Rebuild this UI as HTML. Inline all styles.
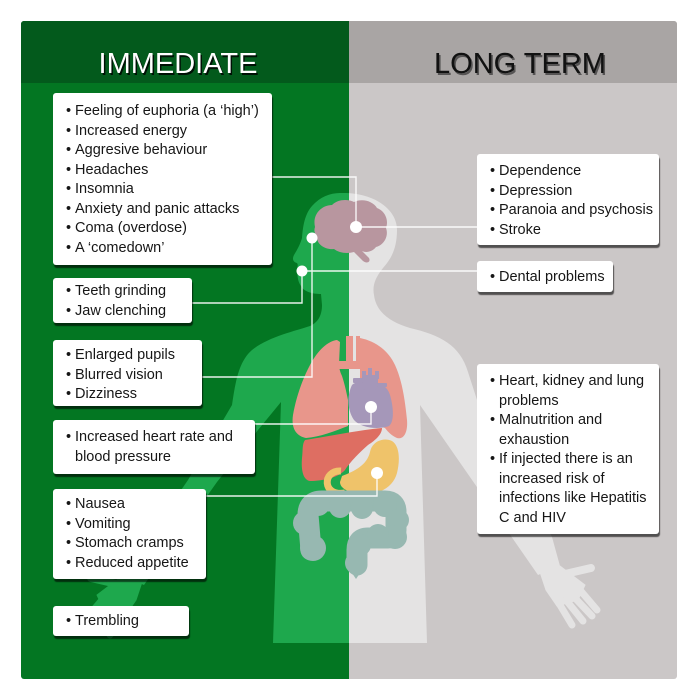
<!DOCTYPE html>
<html>
<head>
<meta charset="utf-8">
<style>
html,body{margin:0;padding:0;background:#fff;}
body{width:700px;height:700px;position:relative;overflow:hidden;}
svg{position:absolute;left:0;top:0;}
.box{position:absolute;background:#fff;border-radius:3px;box-shadow:1px 3px 1px rgba(0,0,0,.6);font-family:"Liberation Sans",sans-serif;font-size:14.5px;line-height:19.5px;color:#161616;white-space:nowrap;box-sizing:border-box;}
.box div{position:relative;padding-left:22px;height:19.5px;}
.box div b{position:absolute;left:13px;top:0;font-weight:normal;}
</style>
</head>
<body>
<svg width="700" height="700" viewBox="0 0 700 700" xmlns="http://www.w3.org/2000/svg">
  <defs>
    <clipPath id="panel"><rect x="21" y="21" width="656" height="658" rx="3"/></clipPath>
    <clipPath id="leftc"><rect x="0" y="0" width="349" height="700"/></clipPath>
    <clipPath id="rightc"><rect x="349" y="0" width="351" height="700"/></clipPath>
    <g id="hand">
      <polygon points="540,572 560,566 585,585 578,600 557,606 546,590"/>
      <g stroke-linecap="round" stroke-width="7" fill="none">
        <line x1="557" y1="600" x2="572" y2="625"/>
        <line x1="566" y1="600" x2="583" y2="621"/>
        <line x1="574" y1="597" x2="592" y2="616"/>
        <line x1="580" y1="590" x2="597" y2="610"/>
        <line x1="565" y1="574" x2="591" y2="568" stroke-width="8"/>
      </g>
    </g>
    <path id="sil" d="M 340,193 C 372,192 397,208 397,230 C 397,250 390,260 383,268 C 376,277 372,285 374,295 C 376,312 390,322 410,328 C 440,335 460,345 468,372 L 478,403 L 552,537 L 560,566 L 538,575 L 420,405 L 427,643 L 273,643 L 281,402 L 258,430 L 217,482 L 144,585 L 122,576 L 188,480 L 232,405 C 235,385 238,362 252,350 C 268,337 295,331 310,326 C 319,322 322,314 322,305 L 321,294 C 313,294 304,292 301,286 C 297,280 298,276 297,272 C 296,268 299,266 297,263 C 293,262 292,259 294,255 C 297,250 300,245 302,238 C 303,225 305,214 312,206 C 320,197 330,193 340,193 Z"/>
  </defs>

  <g clip-path="url(#panel)">
    <rect x="21" y="21" width="328" height="658" fill="#037622"/>
    <rect x="349" y="21" width="328" height="658" fill="#cbc7c7"/>
    <rect x="21" y="21" width="328" height="62" fill="#035a1c"/>
    <rect x="349" y="21" width="328" height="62" fill="#a9a5a4"/>

    <!-- silhouette left -->
    <g clip-path="url(#leftc)" fill="#1ea84d" stroke="#1ea84d">
      <use href="#sil" stroke="none"/>
      <use href="#hand" transform="translate(682,10) scale(-1,1)"/>
      <use href="#hand"/>
    </g>
    <g clip-path="url(#rightc)" fill="#e4e3e3" stroke="#e4e3e3">
      <use href="#sil" stroke="none"/>
      <use href="#hand"/>
    </g>

    <!-- lungs -->
    <g fill="#e8968b">
      <path d="M 337,340 C 328,341 318,350 310,365 C 302,380 296,398 293,415 C 291,428 296,436 306,438 C 320,437 335,431 348,426 L 348,400 C 346,390 344,382 342,376 C 340,372 339,368 339,364 L 340,342 Z"/>
      <path d="M 360,338 C 375,341 388,350 395,365 C 402,380 405,400 407,420 C 408,432 404,440 397,438 C 392,436 388,432 385,428 L 360,420 L 360,365 Z"/>
      <rect x="346" y="336" width="14" height="30"/>
      <rect x="339" y="361" width="22" height="8"/>
    </g>
    <rect x="353" y="336" width="3" height="25" fill="#e4e3e3"/>

    <!-- heart -->
    <g fill="#a597b9">
      <path d="M 352,385 C 347,395 347,410 354,420 C 361,428 378,430 389,426 C 395,421 393,405 390,395 C 387,386 381,383 374,385 C 366,382 357,380 352,385 Z"/>
      <rect x="362" y="375" width="16" height="15" rx="3"/>
      <rect x="362" y="371" width="4" height="8"/>
      <rect x="368" y="368" width="4" height="8"/>
      <rect x="375" y="371" width="4" height="8"/>
      <rect x="353" y="378" width="10" height="5" rx="1"/>
      <rect x="377" y="383" width="10" height="4" rx="1"/>
    </g>

    <!-- liver -->
    <path fill="#de6e62" d="M 305,440 C 330,436 360,430 382,428 C 382,434 376,440 368,445 C 360,452 350,462 345,470 C 338,478 322,481 310,481 C 303,480 301,470 302,458 C 303,450 302,444 305,440 Z"/>

    <!-- duodenum + stomach -->
    <path d="M 341,471 C 322,470 322,497 345,493" fill="none" stroke="#efc36a" stroke-width="7"/>
    <path fill="#efc36a" d="M 342,476 C 355,471 367,465 370,452 C 372,441 384,437 392,441 C 400,446 400,461 397,473 C 393,488 378,495 362,494 C 350,493 340,489 340,482 Z"/>

    <!-- intestines -->
    <g fill="#97b8b1">
      <path d="M 311,550 L 308,515 Q 308,501 322,501 L 385,501 Q 396,501 396,512 L 396,530 Q 396,538 388,538 L 368,538 Q 357,538 357,550 L 357,565" fill="none" stroke="#97b8b1" stroke-width="21" stroke-linejoin="round" stroke-linecap="round"/>
      <circle cx="305" cy="523" r="12"/>
      <circle cx="313" cy="548" r="13"/>
      <circle cx="318" cy="504" r="12"/>
      <circle cx="340" cy="507" r="11"/>
      <circle cx="362" cy="508" r="11"/>
      <circle cx="385" cy="505" r="12"/>
      <circle cx="398" cy="520" r="11"/>
      <circle cx="395" cy="537" r="12"/>
      <circle cx="378" cy="535" r="11"/>
      <circle cx="360" cy="545" r="11"/>
      <circle cx="356" cy="563" r="11"/>
      <polygon points="350,570 362,570 356,579"/>
    </g>

    <!-- brain -->
    <path fill="#b8969f" d="M 315,227 C 312,214 322,205 332,205 C 338,199 348,199 354,202 C 362,198 373,201 377,208 C 385,211 389,220 386,228 C 389,236 384,245 376,247 C 372,252 366,253 362,251 L 369,258 C 371,262 367,264 363,261 L 354,252 C 347,254 339,253 334,249 C 325,250 316,244 317,236 C 314,233 314,230 315,227 Z"/>

    <!-- header text -->
    <g font-family="Liberation Sans, sans-serif" font-size="29" text-anchor="middle">
      <text x="179.5" y="75" fill="#000" opacity="0.8">IMMEDIATE</text>
      <text x="178" y="73" fill="#fff">IMMEDIATE</text>
      <text x="521.5" y="75" fill="#333" opacity="0.7">LONG TERM</text>
      <text x="520" y="73" fill="#111">LONG TERM</text>
    </g>
  </g>

  <!-- connectors -->
  <g fill="none" stroke="#fff" stroke-width="1.4" opacity="0.9">
    <path d="M 272,177 H 356 V 227"/>
    <path d="M 356,227 H 477"/>
    <path d="M 302,271 H 477"/>
    <path d="M 302,271 V 303 H 192"/>
    <path d="M 312,238 V 377 H 202"/>
    <path d="M 371,407 V 424 H 255"/>
    <path d="M 377,473 V 496 H 206"/>
  </g>
  <g fill="#fff">
    <circle cx="356" cy="227" r="6"/>
    <circle cx="312" cy="238" r="5.5"/>
    <circle cx="302" cy="271" r="5.5"/>
    <circle cx="371" cy="407" r="6"/>
    <circle cx="377" cy="473" r="6"/>
  </g>
</svg>

<!-- LEFT BOXES -->
<div class="box" style="left:53px;top:93px;width:219px;height:172px;padding-top:9px;">
  <div><b>•</b>Feeling of euphoria (a ‘high’)</div>
  <div><b>•</b>Increased energy</div>
  <div><b>•</b>Aggresive behaviour</div>
  <div><b>•</b>Headaches</div>
  <div><b>•</b>Insomnia</div>
  <div><b>•</b>Anxiety and panic attacks</div>
  <div><b>•</b>Coma (overdose)</div>
  <div><b>•</b>A ‘comedown’</div>
</div>

<div class="box" style="left:53px;top:278px;width:139px;height:45px;padding-top:4px;">
  <div><b>•</b>Teeth grinding</div>
  <div><b>•</b>Jaw clenching</div>
</div>

<div class="box" style="left:53px;top:340px;width:149px;height:66px;padding-top:6px;">
  <div><b>•</b>Enlarged pupils</div>
  <div><b>•</b>Blurred vision</div>
  <div><b>•</b>Dizziness</div>
</div>

<div class="box" style="left:53px;top:420px;width:202px;height:54px;padding-top:8px;">
  <div><b>•</b>Increased heart rate and</div>
  <div>blood pressure</div>
</div>

<div class="box" style="left:53px;top:489px;width:153px;height:90px;padding-top:6px;">
  <div><b>•</b>Nausea</div>
  <div><b>•</b>Vomiting</div>
  <div><b>•</b>Stomach cramps</div>
  <div><b>•</b>Reduced appetite</div>
</div>

<div class="box" style="left:53px;top:606px;width:136px;height:30px;padding-top:6px;">
  <div><b>•</b>Trembling</div>
</div>

<!-- RIGHT BOXES -->
<div class="box" style="left:477px;top:154px;width:182px;height:91px;padding-top:8px;">
  <div><b>•</b>Dependence</div>
  <div><b>•</b>Depression</div>
  <div><b>•</b>Paranoia and psychosis</div>
  <div><b>•</b>Stroke</div>
</div>

<div class="box" style="left:477px;top:261px;width:136px;height:31px;padding-top:7px;">
  <div><b>•</b>Dental problems</div>
</div>

<div class="box" style="left:477px;top:364px;width:182px;height:170px;padding-top:8px;">
  <div><b>•</b>Heart, kidney and lung</div>
  <div>problems</div>
  <div><b>•</b>Malnutrition and</div>
  <div>exhaustion</div>
  <div><b>•</b>If injected there is an</div>
  <div>increased risk of</div>
  <div>infections like Hepatitis</div>
  <div>C and HIV</div>
</div>
</body>
</html>
